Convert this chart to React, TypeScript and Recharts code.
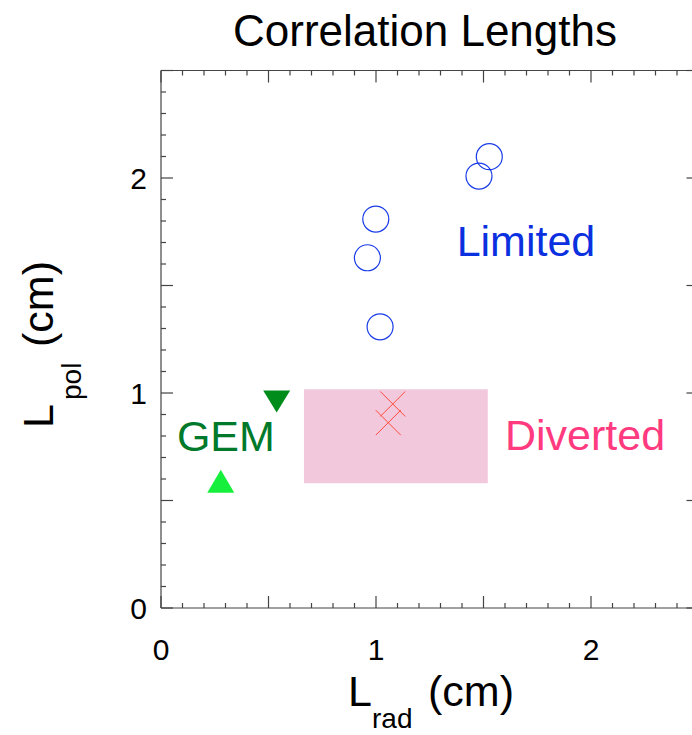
import React from "react";
import {
  ScatterChart,
  Scatter,
  XAxis,
  YAxis,
  ReferenceArea,
} from "recharts";

// ---- data ----
const limitedX = [1.479, 1.527, 0.999, 0.96, 1.019];
const limitedY = [2.009, 2.099, 1.809, 1.629, 1.308];

const gemUpX = [0.278];
const gemUpY = [0.589];
const gemDownX = [0.538];
const gemDownY = [0.96];

const divertedX = [1.078, 1.057];
const divertedY = [0.949, 0.862];

const divertedBoxX = [0.665, 1.52];
const divertedBoxY = [0.58, 1.017];

const annotationText = ["Limited", "Diverted", "GEM"];
const annotationX = [1.375, 1.6, 0.074];
const annotationY = [1.639, 0.735, 0.73];
const annotationColor = ["#0a30e0", "#ff3a7e", "#007a2a"];

const axisTicks = [
  0, 0.1, 0.2, 0.3, 0.4, 0.5, 0.6, 0.7, 0.8, 0.9, 1, 1.1, 1.2, 1.3, 1.4, 1.5,
  1.6, 1.7, 1.8, 1.9, 2, 2.1, 2.2, 2.3, 2.4, 2.5,
];
const majorTicks = [0, 0.5, 1, 1.5, 2, 2.5];
const labelTicks = [0, 1, 2];

const FONT = "'Liberation Sans', Arial, Helvetica, sans-serif";
const AXIS = "#444";

const toPts = (xs: number[], ys: number[]) => xs.map((x, i) => ({ x, y: ys[i] }));
const limitedData = toPts(limitedX, limitedY);
const gemUpData = toPts(gemUpX, gemUpY);
const gemDownData = toPts(gemDownX, gemDownY);
const divertedData = toPts(divertedX, divertedY);
const annotations = annotationText.map((t, i) => ({
  x: annotationX[i],
  y: annotationY[i],
  text: t,
  color: annotationColor[i],
}));

const isIn = (arr: number[], v: number) => arr.some((a) => Math.abs(a - v) < 1e-6);

const makeTick = (dir: "bottom" | "top" | "left" | "right") => (props: any) => {
  const { x, y, payload } = props;
  const v = payload.value;
  const len = isIn(majorTicks, v) ? 12 : 5;
  let line;
  if (dir === "bottom") line = <line x1={x} y1={y} x2={x} y2={y - len} stroke={AXIS} strokeWidth={1.2} />;
  else if (dir === "top") line = <line x1={x} y1={y} x2={x} y2={y + len} stroke={AXIS} strokeWidth={1.2} />;
  else if (dir === "left") line = <line x1={x} y1={y} x2={x + len} y2={y} stroke={AXIS} strokeWidth={1.2} />;
  else line = <line x1={x} y1={y} x2={x - len} y2={y} stroke={AXIS} strokeWidth={1.2} />;
  let label = null;
  if (isIn(labelTicks, v)) {
    if (dir === "bottom")
      label = (
        <text x={x} y={y + 52} textAnchor="middle" fontSize={30} fontFamily={FONT} fill="#000">
          {v}
        </text>
      );
    else if (dir === "left")
      label = (
        <text x={x - 14} y={y + 11} textAnchor="end" fontSize={30} fontFamily={FONT} fill="#000">
          {v}
        </text>
      );
  }
  return (
    <g>
      {line}
      {label}
    </g>
  );
};

const Circle = (p: any) => (
  <circle cx={p.cx} cy={p.cy} r={13} fill="none" stroke="#1a3ce6" strokeWidth={1.2} />
);
const UpTri = (p: any) => (
  <polygon
    points={`${p.cx - 13.5},${p.cy + 11.5} ${p.cx + 13.5},${p.cy + 11.5} ${p.cx},${p.cy - 11.5}`}
    fill="#16f03c"
  />
);
const DownTri = (p: any) => (
  <polygon
    points={`${p.cx - 13.5},${p.cy - 11} ${p.cx + 13.5},${p.cy - 11} ${p.cx},${p.cy + 11}`}
    fill="#008c1a"
  />
);
const Cross = (p: any) => (
  <g stroke="#ff4a3a" strokeWidth={1}>
    <line x1={p.cx - 12.5} y1={p.cy - 12.5} x2={p.cx + 12.5} y2={p.cy + 12.5} />
    <line x1={p.cx - 12.5} y1={p.cy + 12.5} x2={p.cx + 12.5} y2={p.cy - 12.5} />
  </g>
);
const Annot = (p: any) => (
  <text x={p.cx} y={p.cy} fontSize={43} fontFamily={FONT} fill={p.payload.color}>
    {p.payload.text}
  </text>
);

export default function App() {
  return (
    <div
      style={{
        position: "absolute",
        left: 0,
        top: 0,
        width: 692,
        height: 735,
        overflow: "hidden",
        background: "#fff",
      }}
    >
      <ScatterChart
        width={710}
        height={735}
        margin={{ top: 69.5, left: 160, right: 10.5, bottom: 126 }}
      >
        <XAxis
          xAxisId="bottom"
          orientation="bottom"
          type="number"
          dataKey="x"
          domain={[0, 2.5]}
          ticks={axisTicks}
          interval={0}
          allowDataOverflow
          height={1}
          tickSize={0}
          tickMargin={0}
          tickLine={false}
          axisLine={{ stroke: AXIS, strokeWidth: 1.2 }}
          tick={makeTick("bottom")}
        />
        <XAxis
          xAxisId="top"
          orientation="top"
          type="number"
          dataKey="x"
          domain={[0, 2.5]}
          ticks={axisTicks}
          interval={0}
          allowDataOverflow
          height={1}
          tickSize={0}
          tickMargin={0}
          tickLine={false}
          axisLine={{ stroke: AXIS, strokeWidth: 1.2 }}
          tick={makeTick("top")}
        />
        <YAxis
          yAxisId="left"
          orientation="left"
          type="number"
          dataKey="y"
          domain={[0, 2.5]}
          ticks={axisTicks}
          interval={0}
          allowDataOverflow
          width={1}
          tickSize={0}
          tickMargin={0}
          tickLine={false}
          axisLine={{ stroke: AXIS, strokeWidth: 1.2 }}
          tick={makeTick("left")}
        />
        <YAxis
          yAxisId="right"
          orientation="right"
          type="number"
          dataKey="y"
          domain={[0, 2.5]}
          ticks={axisTicks}
          interval={0}
          allowDataOverflow
          width={1}
          tickSize={0}
          tickMargin={0}
          tickLine={false}
          axisLine={{ stroke: AXIS, strokeWidth: 1.2 }}
          tick={makeTick("right")}
        />
        <ReferenceArea
          xAxisId="bottom"
          yAxisId="left"
          x1={divertedBoxX[0]}
          x2={divertedBoxX[1]}
          y1={divertedBoxY[0]}
          y2={divertedBoxY[1]}
          fill="#f2c8dc"
          fillOpacity={1}
          stroke="none"
        />
        <Scatter xAxisId="bottom" yAxisId="left" data={limitedData} shape={Circle} isAnimationActive={false} />
        <Scatter xAxisId="bottom" yAxisId="left" data={gemUpData} shape={UpTri} isAnimationActive={false} />
        <Scatter xAxisId="bottom" yAxisId="left" data={gemDownData} shape={DownTri} isAnimationActive={false} />
        <Scatter xAxisId="bottom" yAxisId="left" data={divertedData} shape={Cross} isAnimationActive={false} />
        <Scatter xAxisId="bottom" yAxisId="left" data={annotations} shape={Annot} isAnimationActive={false} />
      </ScatterChart>
      <svg
        width={692}
        height={735}
        style={{ position: "absolute", left: 0, top: 0, pointerEvents: "none" }}
      >
        <text x={425} y={46} textAnchor="middle" fontSize={44} fontFamily={FONT} fill="#000">
          Correlation Lengths
        </text>
        <text x={348} y={706} fontSize={43} fontFamily={FONT} fill="#000">L</text>
        <text x={372} y={728} fontSize={28} fontFamily={FONT} fill="#000">rad</text>
        <text x={428} y={706} fontSize={43} fontFamily={FONT} fill="#000">(cm)</text>
        <text transform="translate(53,428) rotate(-90)" fontSize={43} fontFamily={FONT} fill="#000">
          <tspan x={0} y={0}>L</tspan>
          <tspan x={28} y={28} fontSize={28}>pol</tspan>
          <tspan x={81} y={0}>(cm)</tspan>
        </text>
      </svg>
    </div>
  );
}
